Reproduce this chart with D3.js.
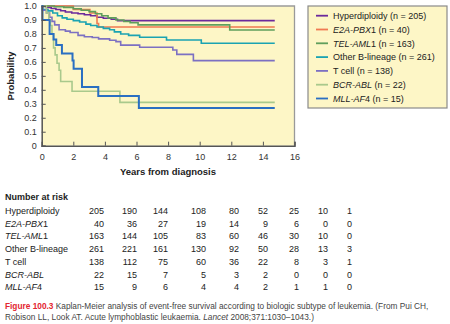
<!DOCTYPE html>
<html><head><meta charset="utf-8">
<script src="https://cdn.jsdelivr.net/npm/d3@7"></script>
<style>
body{margin:0;background:#fff;}
svg{display:block;font-family:"Liberation Sans",Arial,Helvetica,sans-serif;}
</style></head>
<body><svg id="c" width="450" height="324"></svg>
<script>
// ---- data ----
const groups = ["Hyperdiploidy","E2A-PBX1","TEL-AML1","Other B-lineage","T cell","BCR-ABL","MLL-AF4"];
const groupN = [205,40,163,261,138,22,15];
const colors = ["#6c2a9c","#f07a52","#5f9e5c","#1aa3b2","#7c70c2","#a9c98c","#2a6fc2"];
const xTicks = [0,2,4,6,8,10,12,14,16];
const yTicks = [0,0.1,0.2,0.3,0.4,0.5,0.6,0.7,0.8,0.9,1.0];
const riskTimes = [0,2,4,6,8,10,12,14,16];
const endTime = 14.75;

const hyperdiploidy = [[0,1],[0.3,0.99],[0.6,0.982],[0.9,0.975],[1.2,0.966],[1.5,0.957],[1.9,0.95],[2.3,0.945],[2.7,0.937],[3.1,0.93],[3.5,0.92],[3.9,0.912],[4.4,0.905],[4.8,0.895]];
const e2aPbx1 = [[0,1],[2.0,0.975],[3.05,0.95],[3.5,0.875],[3.6,0.85]];
const telAml1 = [[0,1],[0.8,0.995],[1.4,0.99],[2.0,0.98],[2.5,0.97],[3.0,0.96],[3.4,0.945],[3.8,0.93],[4.2,0.915],[4.7,0.9],[5.2,0.89],[5.6,0.88],[6.1,0.865],[11.9,0.828]];
const otherB = [[0,1],[0.05,0.975],[0.4,0.965],[0.7,0.95],[1.0,0.93],[1.3,0.915],[1.6,0.905],[2.0,0.895],[2.4,0.885],[2.8,0.87],[3.1,0.86],[3.5,0.85],[3.9,0.84],[4.3,0.83],[4.6,0.815],[5.0,0.8],[5.5,0.79],[6.2,0.776],[7.9,0.757],[10.1,0.733]];
const tCell = [[0,1],[0.05,0.97],[0.3,0.95],[0.5,0.92],[0.65,0.89],[0.82,0.865],[1.1,0.83],[1.5,0.82],[1.8,0.81],[2.3,0.79],[2.7,0.78],[3.2,0.775],[3.6,0.765],[4.3,0.755],[4.7,0.745],[5.0,0.72],[6.2,0.705],[8.3,0.685],[8.55,0.654],[9.6,0.609]];
const bcrAbl = [[0,1],[0.3,0.95],[0.45,0.9],[0.55,0.86],[0.65,0.8],[0.75,0.7],[0.85,0.65],[0.97,0.59],[1.1,0.54],[1.2,0.46],[1.92,0.39],[4.95,0.31]];
const mllAf4 = [[0,1],[0.05,0.9],[0.5,0.8],[0.75,0.76],[0.92,0.72],[1.28,0.66],[1.95,0.61],[2.02,0.55],[2.55,0.42],[3.58,0.355],[6.15,0.27]];
const curves = [hyperdiploidy,e2aPbx1,telAml1,otherB,tCell,bcrAbl,mllAf4];

const riskHyper = [205,190,144,108,80,52,25,10,1];
const riskE2a = [40,36,27,19,14,9,6,0,0];
const riskTel = [163,144,105,83,60,46,30,10,0];
const riskOther = [261,221,161,130,92,50,28,13,3];
const riskT = [138,112,75,60,36,22,8,3,1];
const riskBcr = [22,15,7,5,3,2,0,0,0];
const riskMll = [15,9,6,4,4,2,1,1,0];
const riskRows = [riskHyper,riskE2a,riskTel,riskOther,riskT,riskBcr,riskMll];

// label parts: [text, italic]
const labelParts = [
  [["Hyperdiploidy",false]],
  [["E2A-PBX",true],["1",false]],
  [["TEL-AML",true],["1",false]],
  [["Other B-lineage",false]],
  [["T cell",false]],
  [["BCR-ABL",true]],
  [["MLL-AF",true],["4",false]]
];

// ---- drawing ----
const svg = d3.select("#c");
const L=41.7, R=294.5, T=6, B=145.7;
const x = d3.scaleLinear().domain([0,16]).range([L,R]);
const y = d3.scaleLinear().domain([0,1]).range([B,T]);
const bg = "#fdf6c6";

svg.append("rect").attr("x",L).attr("y",T).attr("width",R-L).attr("height",B-T).attr("fill",bg);
svg.append("path").attr("d",`M${L},${T}H${R}V${B}`).attr("fill","none").attr("stroke","#9a9a9a").attr("stroke-width",1.3);

const line = d3.line().x(d=>x(d[0])).y(d=>y(d[1])).curve(d3.curveStepAfter);
curves.forEach((c,i)=>{
  const pts = c.concat([[endTime,c[c.length-1][1]]]);
  svg.append("path").datum(pts).attr("d",line).attr("fill","none")
    .attr("stroke",colors[i]).attr("stroke-width",i===6?2:1.6);
});

const xAxis = d3.axisBottom(x).tickValues(xTicks).tickSize(-4).tickPadding(8).tickFormat(d3.format("d"));
const gx = svg.append("g").attr("transform",`translate(0,${B})`).call(xAxis);
const yAxis = d3.axisLeft(y).tickValues(yTicks).tickSize(-4).tickPadding(8).tickFormat(d=>d===0?"0":d3.format(".1f")(d));
const gy = svg.append("g").attr("transform",`translate(${L},0)`).call(yAxis);
[gx,gy].forEach(g=>{
  g.select(".domain").attr("stroke","#555").attr("stroke-width",1.5);
  g.selectAll(".tick line").attr("stroke","#555").attr("stroke-width",1);
  g.selectAll(".tick text").attr("fill","#333").attr("font-size",9).attr("font-family","Liberation Sans, Arial, sans-serif");
});
gx.selectAll(".tick text").attr("dy","0.71em");
gy.selectAll(".tick text").attr("x",-5);
gx.select(".tick line").remove();

svg.append("text").attr("transform","translate(14,76) rotate(-90)").attr("text-anchor","middle")
  .attr("font-size",9.5).attr("font-weight","bold").attr("fill","#222").text("Probability");
svg.append("text").attr("x",168).attr("y",175).attr("text-anchor","middle")
  .attr("font-size",9.5).attr("font-weight","bold").attr("fill","#222").text("Years from diagnosis");

svg.append("rect").attr("x",308).attr("y",6).attr("width",139).attr("height",102)
  .attr("fill",bg).attr("stroke","#8a8a8a").attr("stroke-width",1.2);
groups.forEach((g,i)=>{
  const cy = 15.7 + i*13.8;
  svg.append("line").attr("x1",316).attr("x2",328).attr("y1",cy).attr("y2",cy)
    .attr("stroke",colors[i]).attr("stroke-width",1.8);
  const t = svg.append("text").attr("x",333).attr("y",cy+3.2).attr("font-size",9).attr("fill","#222");
  labelParts[i].forEach(p=>t.append("tspan").attr("font-style",p[1]?"italic":"normal").text(p[0]));
  t.append("tspan").text(` (n = ${groupN[i]})`);
});

const colRight = [104,137,168,206,239,268,299,328,352];
svg.append("text").attr("x",5).attr("y",200).attr("font-size",9).attr("font-weight","bold").attr("fill","#222").text("Number at risk");
riskRows.forEach((row,i)=>{
  const yy = 214 + i*12.7;
  const t = svg.append("text").attr("x",5).attr("y",yy).attr("font-size",9).attr("fill","#222");
  labelParts[i].forEach(p=>t.append("tspan").attr("font-style",p[1]?"italic":"normal").text(p[0]));
  row.forEach((v,j)=>{
    svg.append("text").attr("x",colRight[j]).attr("y",yy).attr("text-anchor","end")
      .attr("font-size",9).attr("fill","#222").text(v);
  });
});

const cap1 = svg.append("text").attr("x",5).attr("y",309).attr("font-size",8.3).attr("fill","#444");
cap1.append("tspan").attr("font-weight","bold").attr("fill","#e3262f").text("Figure 100.3");
cap1.append("tspan").text("  Kaplan-Meier analysis of event-free survival according to biologic subtype of leukemia. (From Pui CH,");
const cap2 = svg.append("text").attr("x",5).attr("y",319.5).attr("font-size",8.3).attr("fill","#444");
cap2.append("tspan").text("Robison LL, Look AT. Acute lymphoblastic leukaemia. ");
cap2.append("tspan").attr("font-style","italic").text("Lancet");
cap2.append("tspan").text(" 2008;371:1030\u20131043.)");
</script></body></html>
